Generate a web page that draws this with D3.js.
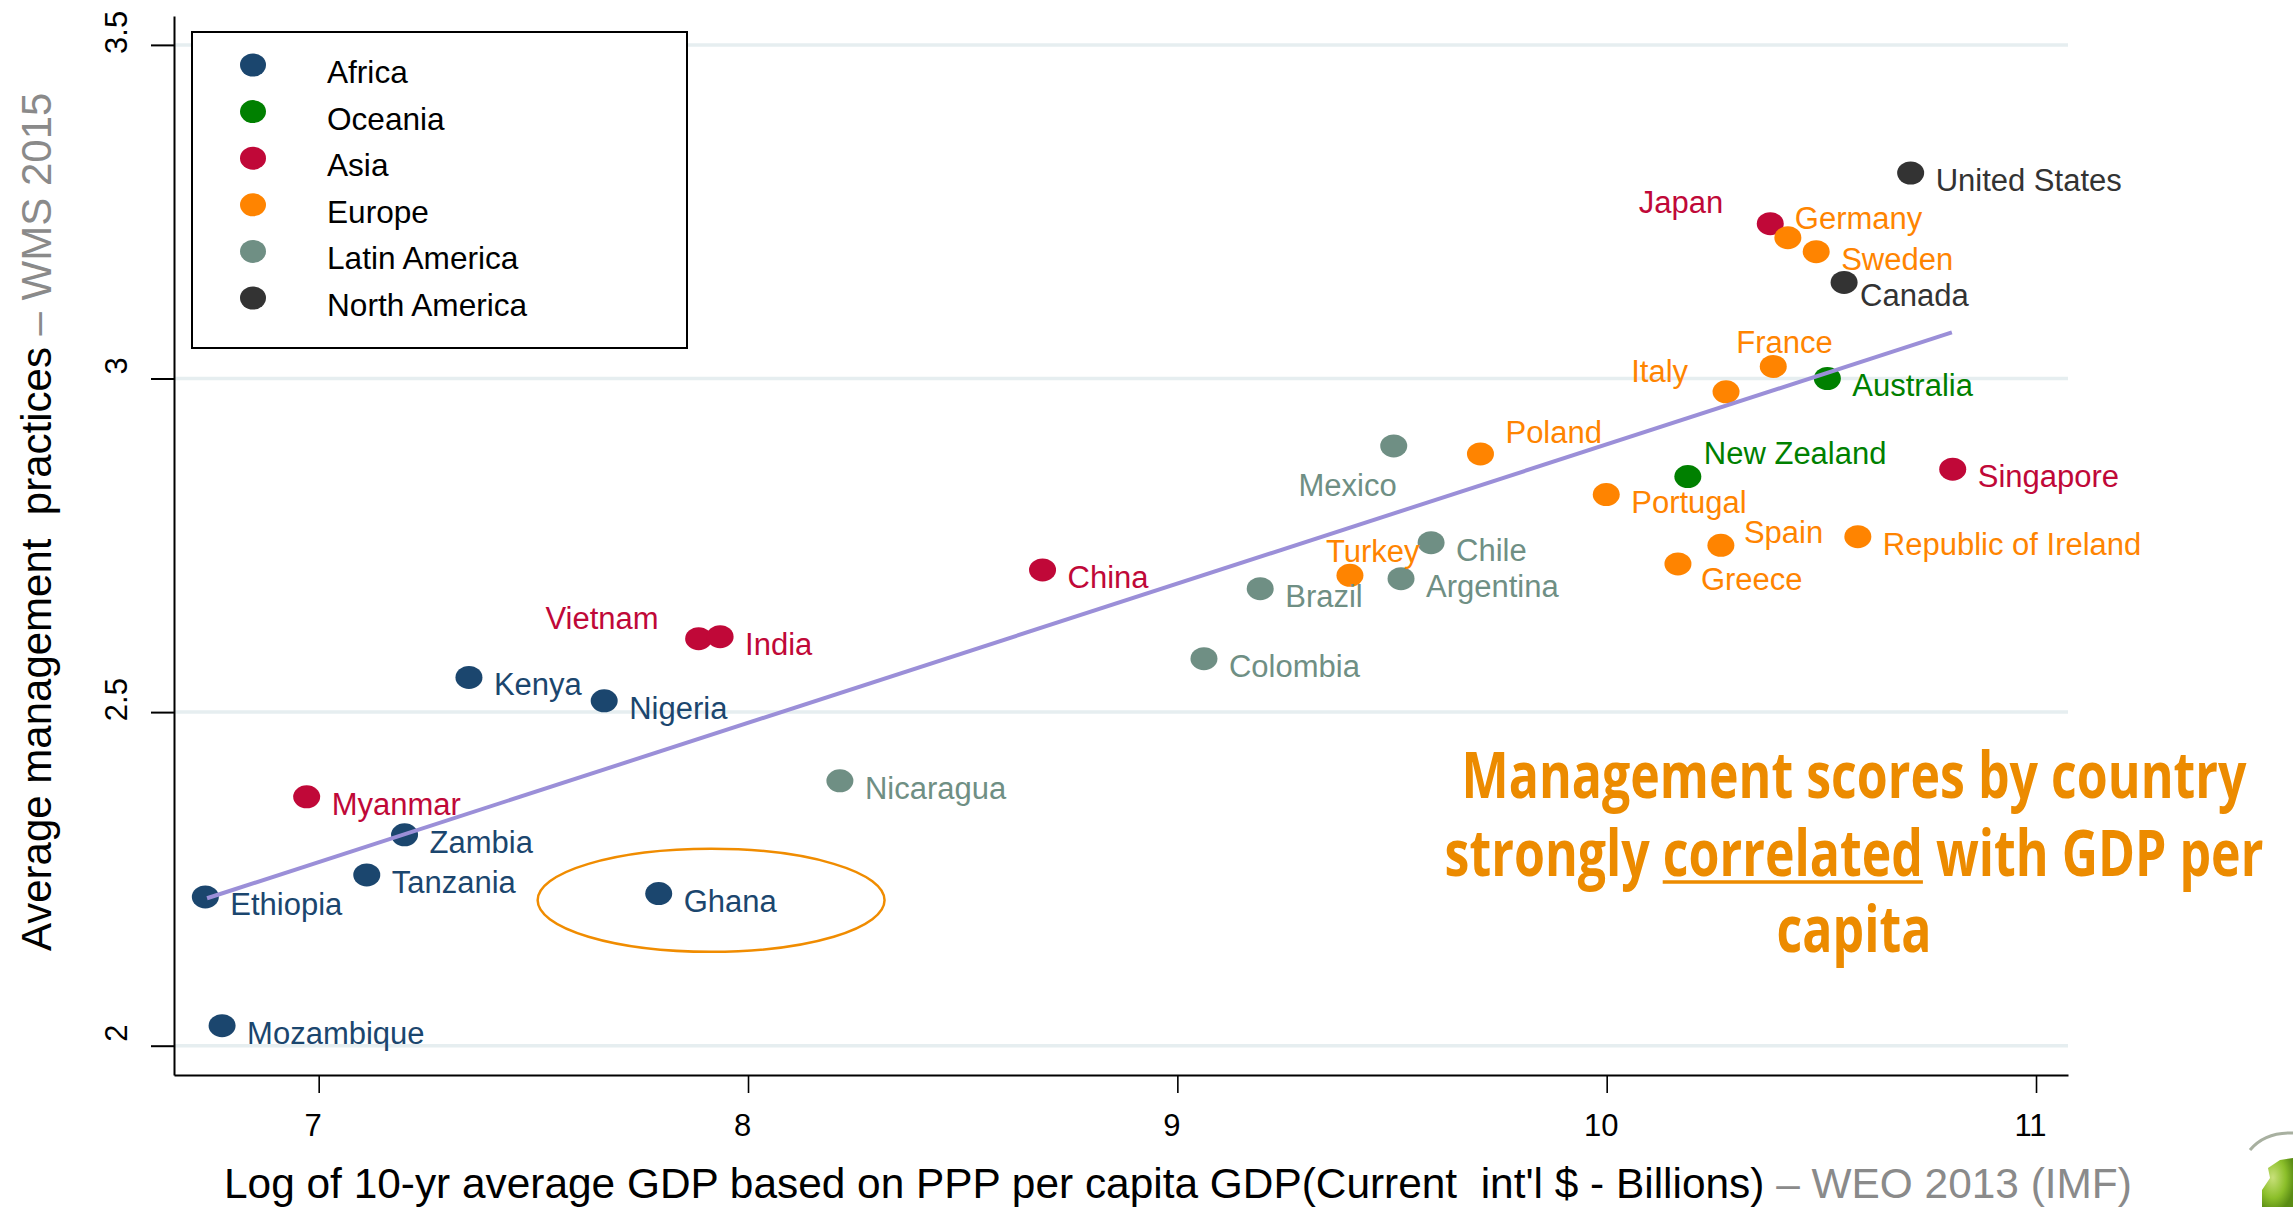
<!DOCTYPE html>
<html>
<head>
<meta charset="utf-8">
<script src="https://cdn.jsdelivr.net/npm/d3@7"></script>
<style>
  body { margin: 0; background: #fff; }
  svg { display: block; }
  text { white-space: pre; }
</style>
</head>
<body>
<script>
// data
const regions = ["Africa", "Oceania", "Asia", "Europe", "Latin America", "North America"];

const countries = ["United States", "Japan", "Germany", "Sweden", "Canada", "France", "Italy",
  "Australia", "New Zealand", "Singapore", "Portugal", "Spain", "Republic of Ireland", "Greece",
  "Mexico", "Poland", "Chile", "Turkey", "Argentina", "Brazil", "Colombia", "China", "Vietnam",
  "India", "Kenya", "Nigeria", "Nicaragua", "Myanmar", "Zambia", "Tanzania", "Ethiopia", "Ghana",
  "Mozambique"];

const countryRegion = ["North America", "Asia", "Europe", "Europe", "North America", "Europe", "Europe",
  "Oceania", "Oceania", "Asia", "Europe", "Europe", "Europe", "Europe",
  "Latin America", "Europe", "Latin America", "Europe", "Latin America", "Latin America", "Latin America", "Asia", "Asia",
  "Asia", "Africa", "Africa", "Latin America", "Asia", "Africa", "Africa", "Africa", "Africa",
  "Africa"];

const logGdp = [10.708, 10.381, 10.422, 10.488, 10.553, 10.388, 10.278,
  10.514, 10.189, 10.806, 9.999, 10.266, 10.585, 10.166,
  9.504, 9.706, 9.591, 9.402, 9.521, 9.193, 9.062, 8.686, 7.885,
  7.935, 7.350, 7.665, 8.214, 6.972, 7.200, 7.112, 6.736, 7.792,
  6.775];

const mgmtScore = [3.308, 3.232, 3.211, 3.190, 3.144, 3.018, 2.980,
  3.000, 2.853, 2.864, 2.826, 2.750, 2.763, 2.722,
  2.899, 2.887, 2.754, 2.705, 2.700, 2.685, 2.580, 2.713, 2.610,
  2.613, 2.552, 2.517, 2.397, 2.373, 2.316, 2.256, 2.223, 2.228,
  2.030];

// linear fit end points [log GDP, score]
const fitX = [6.74, 10.804];
const fitY = [2.221, 3.069];

// Ghana highlight: centre and half-axes in data units
const ghanaRing = [7.914, 2.218, 0.404, 0.0772];

const xTicks = [7, 8, 9, 10, 11];
const yTicks = [2, 2.5, 3, 3.5];

const yTitleMain = "Average management  practices";
const yTitleSource = " \u2013 WMS 2015";
const xTitleMain = "Log of 10-yr average GDP based on PPP per capita GDP(Current  int'l $ - Billions)";
const xTitleSource = " \u2013 WEO 2013 (IMF)";
const noteLines = ["Management scores by country", "strongly correlated with GDP per", "capita"];

// ---- styles ----
const regionColor = {
  "Africa": "#1b466e",
  "Oceania": "#008000",
  "Asia": "#c00838",
  "Europe": "#ff8400",
  "Latin America": "#6f8f84",
  "North America": "#333333"
};

// label placement (dx, dy from marker centre, anchor); default is to the right
const labelOffset = {
  "Japan": [-47, -11, "end"],
  "Germany": [7, -9, "start"],
  "Canada": [16, 24, "start"],
  "France": [-37, -13, "start"],
  "Italy": [-38, -10, "end"],
  "Poland": [25, -11, "start"],
  "New Zealand": [16, -13, "start"],
  "Spain": [23, -2, "start"],
  "Greece": [23, 26, "start"],
  "Mexico": [3, 50, "end"],
  "Turkey": [-24, -13, "start"],
  "Vietnam": [-40, -10, "end"]
};

const W = 2293, H = 1207;
const font = "'Liberation Sans', Arial, sans-serif";

const svg = d3.select("body").append("svg")
  .attr("width", W)
  .attr("height", H)
  .style("font-family", font);

const xScale = d3.scaleLinear().domain([6.663, 11.0745]).range([174, 2068]);
const yScale = d3.scaleLinear().domain([1.9561, 3.5433]).range([1075, 16]);

// gridlines
svg.append("g")
  .selectAll("line")
  .data(yTicks)
  .enter().append("line")
  .attr("x1", xScale.range()[0])
  .attr("x2", xScale.range()[1])
  .attr("y1", d => yScale(d))
  .attr("y2", d => yScale(d))
  .attr("stroke", "#e6eef0")
  .attr("stroke-width", 3.5);

// y axis
const yAxis = svg.append("g")
  .attr("transform", `translate(${xScale.range()[0]},0)`)
  .call(d3.axisLeft(yScale).tickValues(yTicks).tickSize(23).tickSizeOuter(0).tickFormat(d3.format("")));
yAxis.select(".domain").attr("stroke", "#000").attr("stroke-width", 2);
yAxis.selectAll(".tick line").attr("stroke", "#000").attr("stroke-width", 2);
yAxis.selectAll(".tick text")
  .attr("x", null).attr("dy", null)
  .attr("text-anchor", "middle")
  .attr("transform", "translate(-47,-13) rotate(-90)")
  .attr("fill", "#000")
  .style("font-family", font)
  .style("font-size", "31px");

// x axis
const xAxis = svg.append("g")
  .attr("transform", `translate(0,${yScale.range()[0]})`)
  .call(d3.axisBottom(xScale).tickValues(xTicks).tickSize(18).tickSizeOuter(0).tickFormat(d3.format("")));
xAxis.select(".domain").attr("stroke", "#000").attr("stroke-width", 2.2);
xAxis.selectAll(".tick line").attr("stroke", "#000").attr("stroke-width", 1.6);
xAxis.selectAll(".tick text")
  .attr("y", 61).attr("dy", null).attr("dx", -6)
  .attr("fill", "#000")
  .style("font-family", font)
  .style("font-size", "31px");

// points
const points = countries.map((c, i) => ({
  name: c, region: countryRegion[i], x: logGdp[i], y: mgmtScore[i]
}));

svg.append("g")
  .selectAll("ellipse")
  .data(points)
  .enter().append("ellipse")
  .attr("cx", d => xScale(d.x))
  .attr("cy", d => yScale(d.y))
  .attr("rx", 13.5)
  .attr("ry", 11.5)
  .attr("fill", d => regionColor[d.region]);

svg.append("g")
  .selectAll("text")
  .data(points)
  .enter().append("text")
  .attr("x", d => xScale(d.x) + (labelOffset[d.name] ? labelOffset[d.name][0] : 25))
  .attr("y", d => yScale(d.y) + (labelOffset[d.name] ? labelOffset[d.name][1] : 18))
  .attr("text-anchor", d => labelOffset[d.name] ? labelOffset[d.name][2] : "start")
  .attr("fill", d => regionColor[d.region])
  .style("font-size", "31px")
  .text(d => d.name);

// fitted line
svg.append("line")
  .attr("x1", xScale(fitX[0]))
  .attr("y1", yScale(fitY[0]))
  .attr("x2", xScale(fitX[1]))
  .attr("y2", yScale(fitY[1]))
  .attr("stroke", "#9b8fd8")
  .attr("stroke-width", 4);

// Ghana ring
svg.append("ellipse")
  .attr("cx", xScale(ghanaRing[0]))
  .attr("cy", yScale(ghanaRing[1]))
  .attr("rx", xScale(ghanaRing[0] + ghanaRing[2]) - xScale(ghanaRing[0]))
  .attr("ry", yScale(ghanaRing[1] - ghanaRing[3]) - yScale(ghanaRing[1]))
  .attr("fill", "none")
  .attr("stroke", "#f08c00")
  .attr("stroke-width", 2.5);

// legend
const legend = svg.append("g");
legend.append("rect")
  .attr("x", 192).attr("y", 32)
  .attr("width", 495).attr("height", 316)
  .attr("fill", "#fff")
  .attr("stroke", "#000")
  .attr("stroke-width", 2);

const legendRow = legend.selectAll("g.row")
  .data(regions)
  .enter().append("g")
  .attr("class", "row")
  .attr("transform", (d, i) => `translate(0,${65 + i * 46.6})`);
legendRow.append("ellipse")
  .attr("cx", 253).attr("cy", 0)
  .attr("rx", 13).attr("ry", 11.5)
  .attr("fill", d => regionColor[d]);
legendRow.append("text")
  .attr("x", 327).attr("y", 18)
  .attr("fill", "#000")
  .style("font-size", "31.6px")
  .text(d => d);

// axis titles
const yTitle = svg.append("text")
  .attr("transform", "translate(51,951) rotate(-90)")
  .style("font-size", "42px");
yTitle.append("tspan").attr("fill", "#000").text(yTitleMain);
yTitle.append("tspan").attr("fill", "#8a8a8a").text(yTitleSource);

const xTitle = svg.append("text")
  .attr("x", 224)
  .attr("y", 1198)
  .style("font-size", "42.4px");
xTitle.append("tspan").attr("fill", "#000").text(xTitleMain);
xTitle.append("tspan").attr("fill", "#8a8a8a").text(xTitleSource);

// annotation
const noteColor = "#ec8b00";
const noteBase = [798, 876, 952];
const note = svg.append("g");
const noteTexts = noteLines.map((t, i) => {
  const g = note.append("g");
  const txt = g.append("text")
    .attr("text-anchor", "middle")
    .attr("fill", noteColor)
    .style("font-family", "'Open Sans', sans-serif")
    .style("font-weight", 700)
    .style("font-size", "64px")
    .text(t);
  return { g, txt, i };
});
const natural = noteTexts[1].txt.node().getComputedTextLength();
const sx = 819 / natural;
noteTexts.forEach(({ g, i }) => g.attr("transform", `translate(1854,${noteBase[i]}) scale(${sx},1)`));

// underline under "correlated"
const l2 = noteTexts[1].txt.node();
const uStart = l2.getSubStringLength(0, 9);
const uLen = l2.getSubStringLength(9, 10);
noteTexts[1].g.append("line")
  .attr("x1", -natural / 2 + uStart)
  .attr("x2", -natural / 2 + uStart + uLen)
  .attr("y1", 6)
  .attr("y2", 6)
  .attr("stroke", noteColor)
  .attr("stroke-width", 3.5);

// small globe logo peeking in at the bottom right corner
const defs = svg.append("defs");
const grad = defs.append("radialGradient").attr("id", "globe").attr("cx", "35%").attr("cy", "40%").attr("r", "70%");
grad.append("stop").attr("offset", "0%").attr("stop-color", "#c8e07a");
grad.append("stop").attr("offset", "60%").attr("stop-color", "#8cbf2a");
grad.append("stop").attr("offset", "100%").attr("stop-color", "#5a8c14");
const globe = svg.append("g");
globe.append("path")
  .attr("d", "M2262,1207 L2262,1190 L2270,1178 L2268,1168 L2280,1160 L2293,1158 L2293,1207 Z")
  .attr("fill", "url(#globe)");
globe.append("path")
  .attr("d", "M2250,1150 Q2265,1132 2293,1133")
  .attr("fill", "none")
  .attr("stroke", "#a8b0a0")
  .attr("stroke-width", 3);
</script>
</body>
</html>
